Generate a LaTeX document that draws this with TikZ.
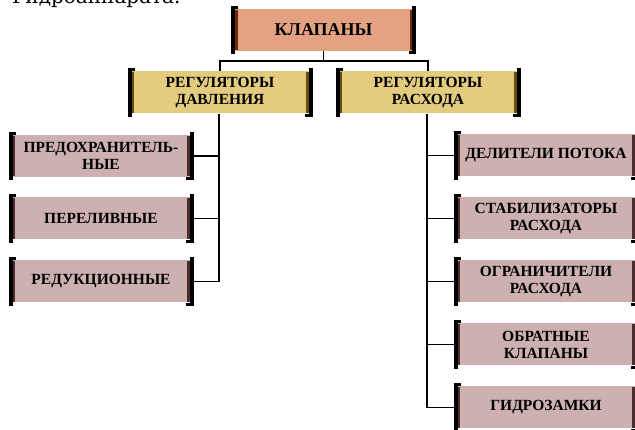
\documentclass[tikz,border=0pt]{standalone}
\usepackage{fontspec}
\setmainfont{Liberation Serif}
\newfontfamily\dvs{DejaVu Serif}
\definecolor{topfill}{RGB}{228,162,130}
\definecolor{topdark}{RGB}{110,40,10}
\definecolor{midfill}{RGB}{227,203,128}
\definecolor{middark}{RGB}{105,80,10}
\definecolor{leaffill}{RGB}{205,176,176}
\definecolor{leafdark}{RGB}{75,45,45}
\newcommand\brk[2]{%
  \fill[#2] ([xshift=1pt,yshift=-1pt]#1.north west) rectangle ([xshift=3.5pt,yshift=1pt]#1.south west);
  \fill[#2] ([xshift=-3pt,yshift=-1pt]#1.north east) rectangle ([xshift=-0.5pt,yshift=1pt]#1.south east);
  \fill[black] ([xshift=-3pt,yshift=3pt]#1.north west) rectangle ([xshift=1pt,yshift=-3pt]#1.south west);
  \fill[black] ([xshift=-3pt,yshift=3pt]#1.north west) rectangle ([xshift=4pt,yshift=0pt]#1.north west);
  \fill[black] ([xshift=-0.5pt,yshift=3pt]#1.north east) rectangle ([xshift=3.5pt,yshift=-3pt]#1.south east);
  \fill[black] ([xshift=-4pt,yshift=-3pt]#1.south east) rectangle ([xshift=3.5pt,yshift=0pt]#1.south east);
}
\begin{document}
\begin{tikzpicture}[x=1pt,y=-1pt,
  box/.style={minimum width=178pt, minimum height=42pt, inner sep=0pt, align=center,
    font=\bfseries\fontsize{15.5}{17}\selectfont},
  topbox/.style={box, fill=topfill, font=\bfseries\fontsize{18}{20}\selectfont},
  midbox/.style={box, fill=midfill},
  leafbox/.style={box, fill=leaffill},
  conn/.style={draw=black, line width=1.5pt}]
\useasboundingbox (0,0) rectangle (635,430);
\node[anchor=base west, font=\dvs\fontsize{20}{20}\selectfont, inner sep=0pt] (cap) at (12,3.5) {Гидроаппарата.};

\node[topbox] (top) at (323.5,30) {КЛАПАНЫ};
\node[midbox] (pd) at (220,92.5) {РЕГУЛЯТОРЫ\\ДАВЛЕНИЯ};
\node[midbox] (pr) at (428,92.5) {РЕГУЛЯТОРЫ\\РАСХОДА};

\node[leafbox] (l1) at (101,156) {ПРЕДОХРАНИТЕЛЬ-\\НЫЕ};
\node[leafbox] (l2) at (101,218.5) {ПЕРЕЛИВНЫЕ};
\node[leafbox] (l3) at (101,281.5) {РЕДУКЦИОННЫЕ};

\node[leafbox] (r1) at (546,155.5) {ДЕЛИТЕЛИ ПОТОКА};
\node[leafbox] (r2) at (546,218.5) {СТАБИЛИЗАТОРЫ\\РАСХОДА};
\node[leafbox] (r3) at (546,281.5) {ОГРАНИЧИТЕЛИ\\РАСХОДА};
\node[leafbox] (r4) at (546,344.5) {ОБРАТНЫЕ\\КЛАПАНЫ};
\node[leafbox] (r5) at (546,407.5) {ГИДРОЗАМКИ};

\brk{top}{topdark}
\brk{pd}{middark}
\brk{pr}{middark}
\foreach \n in {l1,l2,l3,r1,r2,r3,r4,r5} {\brk{\n}{leafdark}}

\coordinate (hub) at (323.5,61);
\draw[conn] (top.south) -- (hub);
\draw[conn] (pd.north) |- (hub) -| (pr.north);

\draw[conn] ([xshift=-1pt]pd.south) |- ([xshift=3.5pt]l3.east);
\draw[conn] ([xshift=-1pt]pd.south |- l1.east) -- ([xshift=3.5pt]l1.east);
\draw[conn] ([xshift=-1pt]pd.south |- l2.east) -- ([xshift=3.5pt]l2.east);

\draw[conn] ([xshift=-1pt]pr.south) |- ([xshift=-3pt]r5.west);
\foreach \n in {r1,r2,r3,r4} {\draw[conn] ([xshift=-1pt]pr.south |- \n.west) -- ([xshift=-3pt]\n.west);}
\end{tikzpicture}
\end{document}
